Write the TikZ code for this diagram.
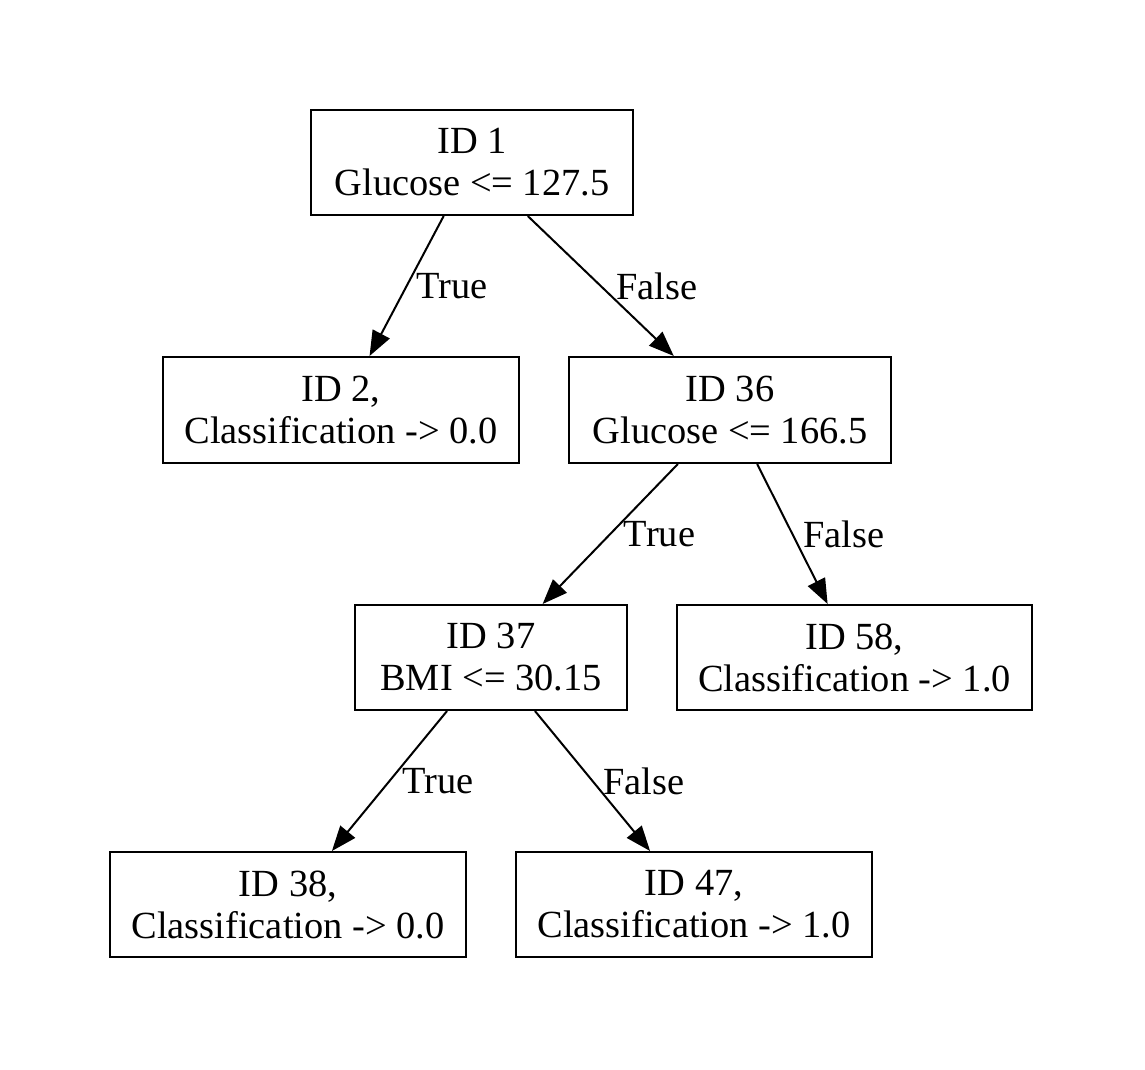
\documentclass[tikz,border=0pt]{standalone}
\usepackage{fontspec}
\setmainfont{Liberation Serif}
\usetikzlibrary{arrows.meta}
\begin{document}
\begin{tikzpicture}[x=0.5pt,y=-0.5pt,
  box/.style={draw,line width=1pt,align=center,inner sep=0pt,
    font=\fontsize{19.2}{21}\selectfont},
  edge/.style={line width=1pt,-{Triangle[length=12.5pt,width=9.5pt]}},
  elabel/.style={right,font=\fontsize{19.2}{21}\selectfont}]
\useasboundingbox[fill=white] (0,0) rectangle (1145,1070);
\node[box,minimum width=161pt,minimum height=52.5pt] (n1) at (472,162.5) {ID 1\\Glucose <= 127.5};
\node[box,minimum width=178pt,minimum height=53pt] (n2) at (341,410) {ID 2,\\Classification -> 0.0};
\node[box,minimum width=161pt,minimum height=53pt] (n36) at (730,410) {ID 36\\Glucose <= 166.5};
\node[box,minimum width=136pt,minimum height=52.5pt] (n37) at (491,657.5) {ID 37\\BMI <= 30.15};
\node[box,minimum width=177.5pt,minimum height=52.5pt] (n58) at (854.5,657.5) {ID 58,\\Classification -> 1.0};
\node[box,minimum width=178pt,minimum height=52.5pt] (n38) at (288,904.5) {ID 38,\\Classification -> 0.0};
\node[box,minimum width=178pt,minimum height=52.5pt] (n47) at (694,904.5) {ID 47,\\Classification -> 1.0};
\draw[edge] (n1) -- node[elabel,xshift=1pt] (l1) {True} (n2);
\draw[edge] (n1) -- node[elabel,xshift=4pt] (l2) {False} (n36);
\draw[edge] (n36) -- node[elabel,xshift=3pt] (l3) {True} (n37);
\draw[edge] (n36) -- node[elabel,xshift=1.5pt] (l4) {False} (n58);
\draw[edge] (n37) -- node[elabel,xshift=2.5pt] (l5) {True} (n38);
\draw[edge] (n37) -- node[elabel,xshift=1.5pt] (l6) {False} (n47);
\end{tikzpicture}
\end{document}
